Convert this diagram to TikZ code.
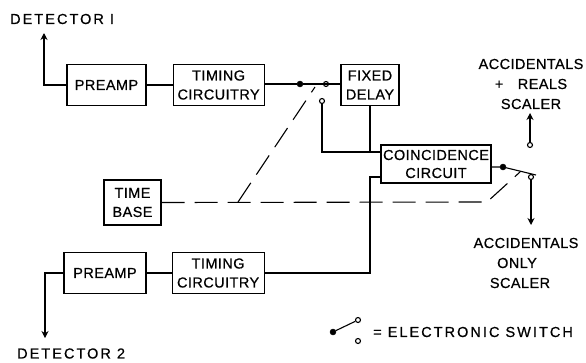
\documentclass[tikz,border=0pt]{standalone}
\usepackage{fontspec}
\setmainfont[LetterSpace=3,FakeBold=0.6]{Liberation Sans}
\newfontfamily\widefont[LetterSpace=14,FakeBold=0.6]{Liberation Sans}
\usetikzlibrary{arrows.meta,positioning}
\tikzset{
  boxnode/.style={draw, line width=1.1pt, align=center, inner sep=0pt, font=\fontsize{14.5}{20}\selectfont},
  labelnode/.style={align=center, inner sep=0pt, font=\fontsize{14.5}{20}\selectfont},
  dotnode/.style={circle, fill=black, draw=black, inner sep=0pt, minimum size=6pt},
  contactnode/.style={circle, draw=black, fill=white, line width=1.1pt, inner sep=0pt, minimum size=5pt},
  signal/.style={line width=1.1pt},
  output/.style={line width=1.1pt, -{Stealth[length=7pt,width=7pt]}},
  timeline/.style={line width=1.1pt, dash pattern=on 23pt off 10pt}
}

\begin{document}
\begin{tikzpicture}[x=1pt,y=-1pt]
  \useasboundingbox (0,0) rectangle (586,362);

  % upper channel
  \node[boxnode, minimum width=79pt, minimum height=41pt] (preampA) at (106.5,85) {PREAMP};
  \node[boxnode, minimum width=91pt, minimum height=41pt, right=26pt of preampA] (timingA) {TIMING\\[-1pt]CIRCUITRY};
  \node[dotnode] (dotA) at (300,84) {};
  \node[contactnode] (upA) at (326,84) {};
  \node[contactnode] (downA) at (322,101) {};
  \node[boxnode, minimum width=58pt, minimum height=41pt] (delay) at (370,85) {FIXED\\[-1pt]DELAY};
  \coordinate (armA) at (331,84);

  % coincidence and output switch
  \node[boxnode, minimum width=110pt, minimum height=38pt] (coinc) at (436,164) {COINCIDENCE\\[-2pt]CIRCUIT};
  \node[dotnode] (dotB) at (503,167) {};
  \node[contactnode] (upB) at (530,145) {};
  \node[contactnode] (downB) at (531,177) {};
  \coordinate (armB) at (536,175);

  % time base
  \node[boxnode, minimum width=57pt, minimum height=45pt] (timebase) at (132.5,202.5) {TIME\\[-1pt]BASE};

  % lower channel
  \node[boxnode, minimum width=82pt, minimum height=41pt] (preampB) at (105,273) {PREAMP};
  \node[boxnode, minimum width=92pt, minimum height=41pt, right=25pt of preampB] (timingB) {TIMING\\[-1pt]CIRCUITRY};

  % labels
  \node[labelnode, anchor=west] (detA) at (10,19) {\widefont DETECTOR I};
  \node[labelnode, anchor=west] (detB) at (17,353.5) {\widefont DETECTOR 2};
  \node[labelnode] (scalerA) at (531,84) {ACCIDENTALS\\+\quad REALS\\SCALER};
  \node[labelnode] (scalerB) at (526,263) {ACCIDENTALS\\\hspace*{-18pt}ONLY\\\hspace*{-12pt}SCALER};

  % legend
  \node[dotnode] (dotC) at (333,332) {};
  \node[contactnode] (upC) at (358,320) {};
  \node[contactnode] (downC) at (358,341) {};
  \node[labelnode, anchor=west] (legend) at (373,332) {\widefont = ELECTRONIC SWITCH};

  % signal lines
  \coordinate (outA) at (44,33);
  \coordinate (outB) at (45,338);
  \draw[output] (preampA.west) -| (outA);
  \draw[output] (preampB.west) -| (outB);
  \draw[signal] (preampA) -- (timingA);
  \draw[signal] (preampB) -- (timingB);
  \draw[signal] (timingA.east |- dotA) -- (dotA) -- (armA);
  \draw[signal] (upA) -- (delay.west |- upA);
  \draw[signal] (downA) |- (coinc.west |- 0,152);
  \draw[signal] (delay.south) -- (delay.south |- 0,152);
  \draw[signal] (timingB.east) -| (delay.south |- 0,177) -- (coinc.west |- 0,177);
  \draw[signal] (coinc.east |- dotB) -- (dotB) -- (armB);
  \draw[signal] (dotC) -- (upC);
  \draw[output] (upB) -- (530,113);
  \draw[output] (downB) -- (531,225);

  % switch control
  \coordinate (bendA) at (238,202);
  \coordinate (tapA) at (315,87);
  \coordinate (bendB) at (487,202);
  \coordinate (tapB) at (520,172);
  \draw[timeline] (timebase.east) -- (bendB) -- (tapB);
  \draw[timeline] (bendA) -- (tapA);
\end{tikzpicture}
\end{document}
